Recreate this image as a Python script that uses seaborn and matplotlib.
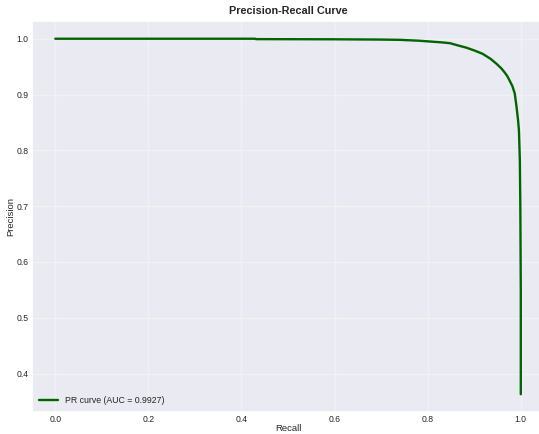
import matplotlib
matplotlib.use("Agg")
import matplotlib.pyplot as plt
import seaborn as sns
import pandas as pd

# 곡선 위의 점
recall = [0.0, 0.43, 0.431, 0.60, 0.70, 0.74, 0.78, 0.805, 0.83, 0.848, 0.865,
          0.883, 0.90, 0.918, 0.935, 0.948, 0.958, 0.965, 0.971, 0.976, 0.982,
          0.987, 0.991, 0.994, 0.996, 0.998, 0.999, 1.0, 1.0]
precision = [1.0, 1.0, 0.9993, 0.999, 0.9985, 0.998, 0.9965, 0.995, 0.9935, 0.992,
             0.988, 0.984, 0.979, 0.973, 0.964, 0.955, 0.947, 0.940, 0.933, 0.925,
             0.915, 0.902, 0.877, 0.855, 0.836, 0.782, 0.70, 0.55, 0.363]
auc_label = "PR curve (AUC = 0.9927)"

df = pd.DataFrame({"Recall": recall, "Precision": precision})

sns.set_theme(style="darkgrid")
plt.rcParams["font.family"] = ["Liberation Sans", "DejaVu Sans"]

fig = plt.figure(figsize=(5.39, 4.34), dpi=100)
ax = fig.add_axes([0.0594, 0.0507, 0.95, 0.901])

sns.lineplot(data=df, x="Recall", y="Precision", color="darkgreen", linewidth=1.7,
             label=auc_label, sort=False, estimator=None, ax=ax)

ax.grid(True, alpha=0.3)
ax.set_title("Precision-Recall Curve", fontsize=7.8, fontweight="bold", pad=5)
ax.set_xlabel("Recall", fontsize=6.8, labelpad=0)
ax.set_ylabel("Precision", fontsize=6.8, labelpad=1)
ax.tick_params(labelsize=6.2, pad=2.5, length=0)
ax.legend(loc="lower left", fontsize=6.3, frameon=False, handlelength=2.2,
          borderaxespad=0.4)

fig.savefig("out.png", dpi=100)
